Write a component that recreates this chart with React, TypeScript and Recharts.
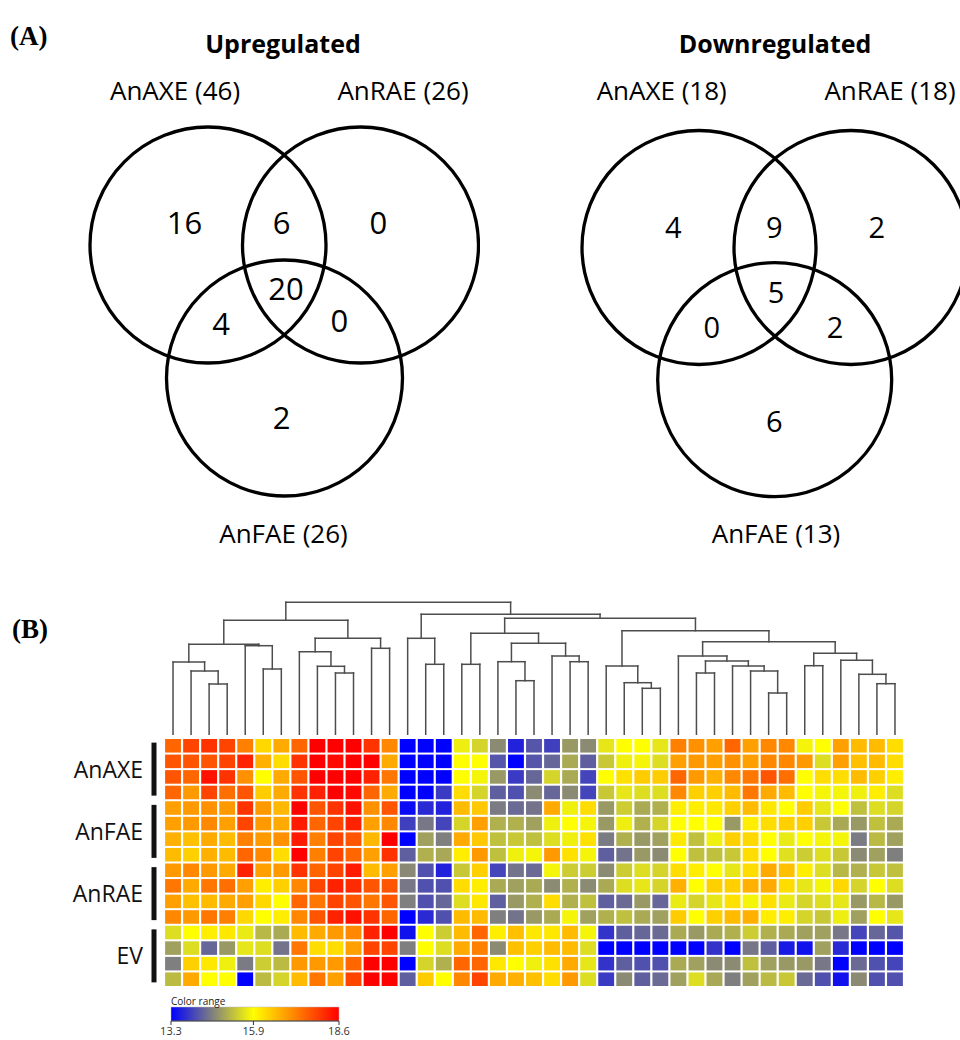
import React from 'react';
import {
  ScatterChart,
  Scatter,
  XAxis,
  YAxis,
  ComposedChart,
  ReferenceLine,
  ReferenceArea,
} from 'recharts';

const SANS = '"Open Sans", "Noto Sans", "DejaVu Sans", sans-serif';
const SERIF = '"Liberation Serif", "DejaVu Serif", serif';

// ---------------- Panel A: Venn data ----------------
const setNames = ['AnAXE', 'AnRAE', 'AnFAE'];
const upTotals = [46, 26, 26];
const downTotals = [18, 18, 13];
// regions: AXE only, AXE∩RAE, RAE only, all three, AXE∩FAE, RAE∩FAE, FAE only
const upCounts = [16, 6, 0, 20, 4, 0, 2];
const downCounts = [4, 9, 2, 5, 0, 2, 6];

// ---------------- Panel B: heatmap data ----------------
const groupNames = ['AnAXE', 'AnFAE', 'AnRAE', 'EV'];
const groupTicks = [1.5, 5.5, 9.5, 13.5];

const axe1 = [17.52,17.88,18.06,17.88,17.25,16.31,16.8,17.52,18.6,18.6,18.6,18.06,17.16,13.3,13.3,13.3,15.73,15.46,14.72,13.65,14.17,13.95,14.86,14.72,15.65,15.9,15.9,15.65,17.25,17.08,16.91,17.52,16.91,17.16,17.16,15.8,15.9,16.91,16.62,16.62,16.26];
const axe2 = [17.7,17.7,17.7,17.88,18.24,16.74,16.26,18.06,18.6,18.5,18.6,18.6,16.8,13.3,13.3,13.3,15.9,15.9,14.17,13.3,14.17,14.34,15.03,14.27,15.34,15.75,15.8,15.55,16.91,16.98,16.91,17.08,16.91,17.16,17.16,16.98,15.55,16.91,16.57,16.62,16.26];
const axe3 = [17.7,17.52,18.42,18.06,17.08,15.9,16.8,17.7,18.6,18.6,18.6,18.24,17.34,13.3,13.3,13.3,15.9,15.8,14.86,13.89,14.34,15.46,15.03,13.99,15.9,16.22,16.44,16.44,17.52,16.98,16.74,17.16,17.34,17.7,17.43,15.9,16.26,16.26,16.62,16.4,16.08];
const axe4 = [17.52,16.98,17.88,17.43,17.7,16.44,16.8,18.06,18.24,18.6,18.5,17.52,16.8,13.3,13.3,13.89,16.26,15.46,14.27,14.12,14.72,14.34,14.72,13.99,15.34,15.65,15.55,15.55,17.16,16.4,16.4,16.62,17.34,16.8,16.62,15.9,15.8,15.8,15.75,16.08,15.55];
const fae1 = [16.91,16.98,17.08,16.98,18.06,16.98,16.65,18.6,17.7,18.06,18.42,17.08,17.7,13.4,13.73,13.65,16.62,16.48,14.55,14.38,14.47,16.8,15.75,16.26,14.86,15.38,15.03,15.09,16.08,16.08,16.14,16.4,16.62,16.14,15.9,16.44,15.65,15.9,15.26,15.55,15.46];
const fae2 = [16.91,16.98,17.16,16.91,17.88,16.98,16.8,18.33,17.52,17.88,18.24,16.91,17.16,13.95,14.51,13.99,15.46,16.91,15.09,15.09,14.93,15.75,15.9,15.8,14.86,15.73,15.09,15.46,15.9,15.9,15.9,14.86,16.08,16.26,16.4,16.4,15.34,15.01,14.86,15.26,15.03];
const fae3 = [16.74,16.57,16.8,16.62,17.25,16.98,17.08,18.33,17.25,17.88,17.7,16.65,18.6,13.3,14.93,14.6,16.8,16.48,15.26,15.34,15.26,15.55,15.75,16.22,14.55,15.09,14.86,14.93,16.14,15.26,15.75,16.4,16.31,15.9,15.69,15.9,15.8,15.8,14.55,15.21,14.93];
const fae4 = [16.62,16.4,16.74,16.62,17.52,17.16,16.26,18.6,17.25,17.88,17.52,16.91,18.06,14.27,15.09,15.01,16.08,16.98,15.26,15.75,15.8,16.98,16.22,15.8,14.27,14.47,14.86,14.72,15.9,15.26,15.26,15.34,16.26,15.9,15.58,15.38,15.55,15.34,14.72,14.93,14.6];
const rae1 = [16.98,17.16,16.98,16.8,18.24,16.91,16.98,18.06,17.52,17.88,18.33,16.62,16.91,14.7,14.12,13.65,15.34,16.4,13.99,14.47,14.38,15.8,15.38,15.38,14.72,15.38,15.55,15.46,16.26,16.08,15.9,15.65,16.26,16.8,16.57,16.08,15.55,15.18,15.09,15.34,15.26];
const rae2 = [17.34,16.8,17.34,17.43,16.91,16.08,16.4,17.16,17.88,18.24,18.15,17.7,17.7,14.51,14.12,14.12,16.26,16.08,15.03,14.93,15.03,14.72,15.09,14.72,15.03,15.55,15.65,15.46,16.74,15.9,16.4,16.4,16.74,16.8,16.26,15.65,15.8,16.31,15.46,15.9,15.55];
const rae3 = [16.91,16.57,16.62,16.8,16.91,16.31,15.9,17.52,17.34,17.88,17.7,17.34,17.7,14.6,14.12,14.34,15.55,16.14,14.27,14.86,15.09,16.26,15.09,15.26,14.27,14.38,14.86,14.34,15.69,15.46,15.65,16.22,15.8,16.22,15.69,15.46,15.55,15.65,14.86,15.18,14.86];
const rae4 = [17.16,16.98,17.34,17.25,16.31,15.9,16.08,17.16,17.7,18.24,18.42,18.06,17.52,13.3,13.73,14.12,16.62,16.62,14.6,14.47,14.86,15.03,15.8,14.93,15.09,15.26,15.03,14.93,16.44,15.9,16.4,16.62,16.74,16.08,16.08,15.46,15.34,15.73,14.93,15.9,15.65];
const ev1 = [15.55,15.9,16.08,16.14,15.69,15.18,15.03,16.62,16.8,16.98,17.16,18.24,18.6,13.46,15.9,15.38,16.62,17.52,16.08,16.57,16.14,16.14,16.62,15.8,13.82,14.27,14.34,14.38,15.03,14.86,15.03,15.09,15.38,15.09,15.03,14.93,14.93,14.51,13.99,14.34,14.17];
const ev2 = [14.93,15.55,14.34,14.86,15.65,15.55,14.47,17.34,16.26,16.26,16.91,17.88,17.88,14.6,15.9,15.55,16.8,17.25,14.72,16.57,16.4,16.62,16.62,15.55,13.3,13.3,13.3,13.3,13.3,13.3,13.82,13.3,14.51,14.27,13.57,13.47,14.93,13.73,13.3,13.3,13.3];
const ev3 = [14.6,16.4,16.14,15.75,14.55,15.38,15.21,16.98,16.98,16.98,17.52,18.6,18.6,13.3,15.46,15.09,17.52,17.52,16.14,15.9,15.75,16.22,16.8,15.65,13.82,14.27,14.12,14.12,15.03,14.93,14.72,14.72,15.26,14.93,14.86,14.86,14.51,13.3,14.38,14.12,13.99];
const ev4 = [15.21,16.8,15.9,15.9,13.3,15.21,15.46,16.62,17.34,16.91,17.88,18.6,18.6,14.27,16.44,15.9,17.16,17.88,16.8,16.74,16.57,16.26,16.98,15.55,13.89,14.72,14.27,14.38,14.93,15.55,15.01,14.6,14.93,15.21,15.34,14.38,14.12,13.47,14.72,14.12,14.12];

const heatRows = [axe1, axe2, axe3, axe4, fae1, fae2, fae3, fae4, rae1, rae2, rae3, rae4, ev1, ev2, ev3, ev4];

// colour range
const colorMin = 13.3;
const colorMid = 15.9;
const colorMax = 18.6;
const colorTicks = [13.3, 15.9, 18.6];

// dendrogram linkage over the 41 columns (node ids 41.. in order)
const mergeLeft = [2, 1, 0, 5, 4, 43, 9, 8, 7, 11, 49, 46, 14, 13, 16, 19, 18, 22, 21, 57, 55, 26, 25, 24, 29, 33, 32, 31, 65, 28, 35, 39, 38, 37, 71, 70, 64, 61, 54, 52];
const mergeRight = [3, 41, 42, 6, 44, 45, 10, 47, 48, 12, 50, 51, 15, 53, 17, 20, 56, 23, 58, 59, 60, 27, 62, 63, 30, 34, 66, 67, 68, 69, 36, 40, 72, 73, 74, 75, 76, 77, 78, 79];
const mergeHeight = [51, 64, 73, 66, 89.3, 90.7, 62, 68.7, 83.3, 86.7, 96.7, 114.7, 70.7, 96.7, 70.7, 54.3, 73.3, 73.3, 79, 91.7, 101.7, 46.7, 52.3, 69, 62, 42, 64, 69, 74, 79, 69.3, 51.3, 60.7, 74.7, 81.7, 93.3, 104.3, 116.7, 120.7, 132.7];

// ---------------- helpers ----------------
const clamp = (t: number) => Math.max(0, Math.min(1, t));
function heatColor(v: number): string {
  if (v <= colorMid) {
    const t = clamp((v - colorMin) / (colorMid - colorMin));
    const c = Math.round(255 * t);
    return `rgb(${c},${c},${255 - c})`;
  }
  const t = clamp((v - colorMid) / (colorMax - colorMid));
  return `rgb(255,${Math.round(255 * (1 - t))},0)`;
}

const NCOL = axe1.length;
const NROW = heatRows.length;
const HEAT_W = 740;
const HEAT_H = 249;
const CELL_W = HEAT_W / NCOL;
const CELL_H = HEAT_H / NROW;

const cells = heatRows.flatMap((row, r) => row.map((v, c) => ({ x: c, y: r, v })));

// ---------------- Venn layouts (page px) ----------------
type VennLayout = {
  x0: number;
  w: number;
  r: number;
  circles: number[][];
  setLabels: number[][];
  regions: number[][];
  title: number[];
  countSize: number;
};
const upLayout: VennLayout = {
  x0: 0,
  w: 480,
  r: 118,
  circles: [[208, 245], [360.5, 245], [284.5, 378]],
  setLabels: [[175, 100], [403, 100], [283.5, 543]],
  regions: [[184.5, 234], [281.7, 234], [378.3, 234], [286, 300], [221, 335], [339.3, 332], [281.7, 429]],
  title: [283, 53],
  countSize: 31,
};
const downLayout: VennLayout = {
  x0: 480,
  w: 480,
  r: 117,
  circles: [[699, 247.5], [851, 247.5], [774.7, 379.7]],
  setLabels: [[661.7, 100], [890, 100], [776, 543]],
  regions: [[673.3, 238], [774.3, 238], [876.7, 238], [776, 303], [711.7, 338], [835, 338], [774.3, 432]],
  title: [775, 53],
  countSize: 29,
};

const CircleShape = (props: any) => {
  const { cx, cy, payload } = props;
  return <circle cx={cx} cy={cy} r={payload.r} fill="none" stroke="#000" strokeWidth={3.3} />;
};
const TextShape = (props: any) => {
  const { cx, cy, payload } = props;
  return (
    <text x={cx} y={cy} textAnchor="middle" fontFamily={SANS} fontSize={payload.size} fontWeight={payload.weight} fill="#000">
      {payload.text}
    </text>
  );
};

function VennChart({ layout, totals, counts, title }: { layout: VennLayout; totals: number[]; counts: number[]; title: string }) {
  const circleData = layout.circles.map((c) => ({ x: c[0], y: c[1], r: layout.r }));
  const textData = [
    { x: layout.title[0], y: layout.title[1], text: title, size: 25, weight: 700 },
    ...setNames.map((n, i) => ({ x: layout.setLabels[i][0], y: layout.setLabels[i][1], text: `${n} (${totals[i]})`, size: 26, weight: 400 })),
    ...counts.map((n, i) => ({ x: layout.regions[i][0], y: layout.regions[i][1], text: String(n), size: layout.countSize, weight: 400 })),
  ];
  return (
    <ScatterChart width={layout.w} height={560} margin={{ top: 0, right: 0, bottom: 0, left: 0 }}>
      <XAxis type="number" dataKey="x" domain={[layout.x0, layout.x0 + layout.w]} hide />
      <YAxis type="number" dataKey="y" domain={[0, 560]} reversed hide />
      <Scatter data={circleData} shape={CircleShape} isAnimationActive={false} />
      <Scatter data={textData} shape={TextShape} isAnimationActive={false} />
    </ScatterChart>
  );
}

// ---------------- dendrogram ----------------
function buildDendroSegments() {
  const pos: { x: number; h: number }[] = [];
  for (let i = 0; i < NCOL; i++) pos.push({ x: i, h: 0 });
  const segs: { x: number; y: number }[][] = [];
  mergeLeft.forEach((a, k) => {
    const b = mergeRight[k];
    const h = mergeHeight[k];
    const pa = pos[a];
    const pb = pos[b];
    segs.push([{ x: pa.x, y: pa.h }, { x: pa.x, y: h }]);
    segs.push([{ x: pb.x, y: pb.h }, { x: pb.x, y: h }]);
    segs.push([{ x: pa.x, y: h }, { x: pb.x, y: h }]);
    pos.push({ x: (pa.x + pb.x) / 2, h });
  });
  return segs;
}
const dendroSegs = buildDendroSegments();
const leafData = axe1.map((_, i) => ({ x: i, y: 0 }));

function Dendrogram() {
  return (
    <ComposedChart width={904} height={135} data={leafData} margin={{ top: 0, right: 0, bottom: 0, left: 164 }}>
      <XAxis type="number" dataKey="x" domain={[-0.5, NCOL - 0.5]} hide />
      <YAxis type="number" dataKey="y" domain={[0, 135]} hide />
      {dendroSegs.map((s, i) => (
        <ReferenceLine key={i} segment={s} stroke="#4d4d4d" strokeWidth={1.5} strokeLinecap="square" ifOverflow="visible" />
      ))}
    </ComposedChart>
  );
}

// ---------------- heatmap ----------------
const CellShape = (props: any) => {
  const { cx, cy, payload } = props;
  const w = CELL_W - 2.2;
  const h = CELL_H - 2;
  return <rect x={cx - w / 2} y={cy - h / 2} width={w} height={h} fill={heatColor(payload.v)} />;
};

const GroupTick = (props: any) => {
  const { y, payload } = props;
  const gi = groupTicks.indexOf(payload.value);
  return (
    <g>
      <rect x={151.5} y={y - 26.5} width={5} height={53} fill="#111" />
      <text x={143} y={y + 8.5} textAnchor="end" fontFamily={SANS} fontSize={23} fill="#111">
        {groupNames[gi]}
      </text>
    </g>
  );
};

function Heatmap() {
  return (
    <ScatterChart width={164 + HEAT_W} height={HEAT_H} margin={{ top: 0, right: 0, bottom: 0, left: 0 }}>
      <XAxis type="number" dataKey="x" domain={[-0.5, NCOL - 0.5]} hide />
      <YAxis
        type="number"
        dataKey="y"
        domain={[-0.5, NROW - 0.5]}
        reversed
        width={164}
        ticks={groupTicks}
        interval={0}
        axisLine={false}
        tickLine={false}
        tick={<GroupTick />}
      />
      <Scatter data={cells} shape={CellShape} isAnimationActive={false} />
    </ScatterChart>
  );
}

// ---------------- colour range legend ----------------
const legendData = [{ x: colorMin, y: 0 }, { x: colorMax, y: 1 }];
function ColorLegend() {
  const midPct = ((colorMid - colorMin) / (colorMax - colorMin)) * 100;
  return (
    <ComposedChart width={360} height={40} data={legendData} margin={{ top: 7, right: 21, bottom: 0, left: 171 }}>
      <defs>
        <linearGradient id="crGrad" x1="0" y1="0" x2="1" y2="0">
          <stop offset="0%" stopColor="#0000ff" />
          <stop offset={`${midPct}%`} stopColor="#ffff00" />
          <stop offset="100%" stopColor="#ff0000" />
        </linearGradient>
      </defs>
      <XAxis
        type="number"
        dataKey="x"
        domain={[colorMin, colorMax]}
        ticks={colorTicks}
        interval={0}
        height={19}
        tickSize={4}
        tickMargin={2}
        stroke="#333"
        tick={{ fontSize: 11, fill: '#333', fontFamily: SANS }}
        tickFormatter={(v: number) => v.toFixed(1)}
      />
      <YAxis type="number" dataKey="y" domain={[0, 1]} hide />
      <ReferenceArea x1={colorMin} x2={colorMax} y1={0} y2={1} fill="url(#crGrad)" fillOpacity={1} stroke="#bbb" strokeWidth={0.5} ifOverflow="visible" />
    </ComposedChart>
  );
}

export default function App() {
  return (
    <div style={{ position: 'absolute', left: 0, top: 0, width: 960, height: 1040, overflow: 'hidden', background: '#fff' }}>
      <div style={{ position: 'absolute', left: 0, top: 0 }}>
        <VennChart layout={upLayout} totals={upTotals} counts={upCounts} title="Upregulated" />
      </div>
      <div style={{ position: 'absolute', left: 480, top: 0 }}>
        <VennChart layout={downLayout} totals={downTotals} counts={downCounts} title="Downregulated" />
      </div>
      <div style={{ position: 'absolute', left: 0, top: 600 }}>
        <Dendrogram />
      </div>
      <div style={{ position: 'absolute', left: 0, top: 738 }}>
        <Heatmap />
      </div>
      <div style={{ position: 'absolute', left: 0, top: 1000 }}>
        <ColorLegend />
      </div>
      <svg style={{ position: 'absolute', left: 0, top: 0, pointerEvents: 'none' }} width={960} height={1040}>
        <text x={10} y={45} fontFamily={SERIF} fontWeight={700} fontSize={27} fill="#000">(A)</text>
        <text x={12} y={638} fontFamily={SERIF} fontWeight={700} fontSize={27} fill="#000">(B)</text>
        <text x={171} y={1005} fontFamily={SANS} fontSize={10} fill="#222">Color range</text>
      </svg>
    </div>
  );
}
